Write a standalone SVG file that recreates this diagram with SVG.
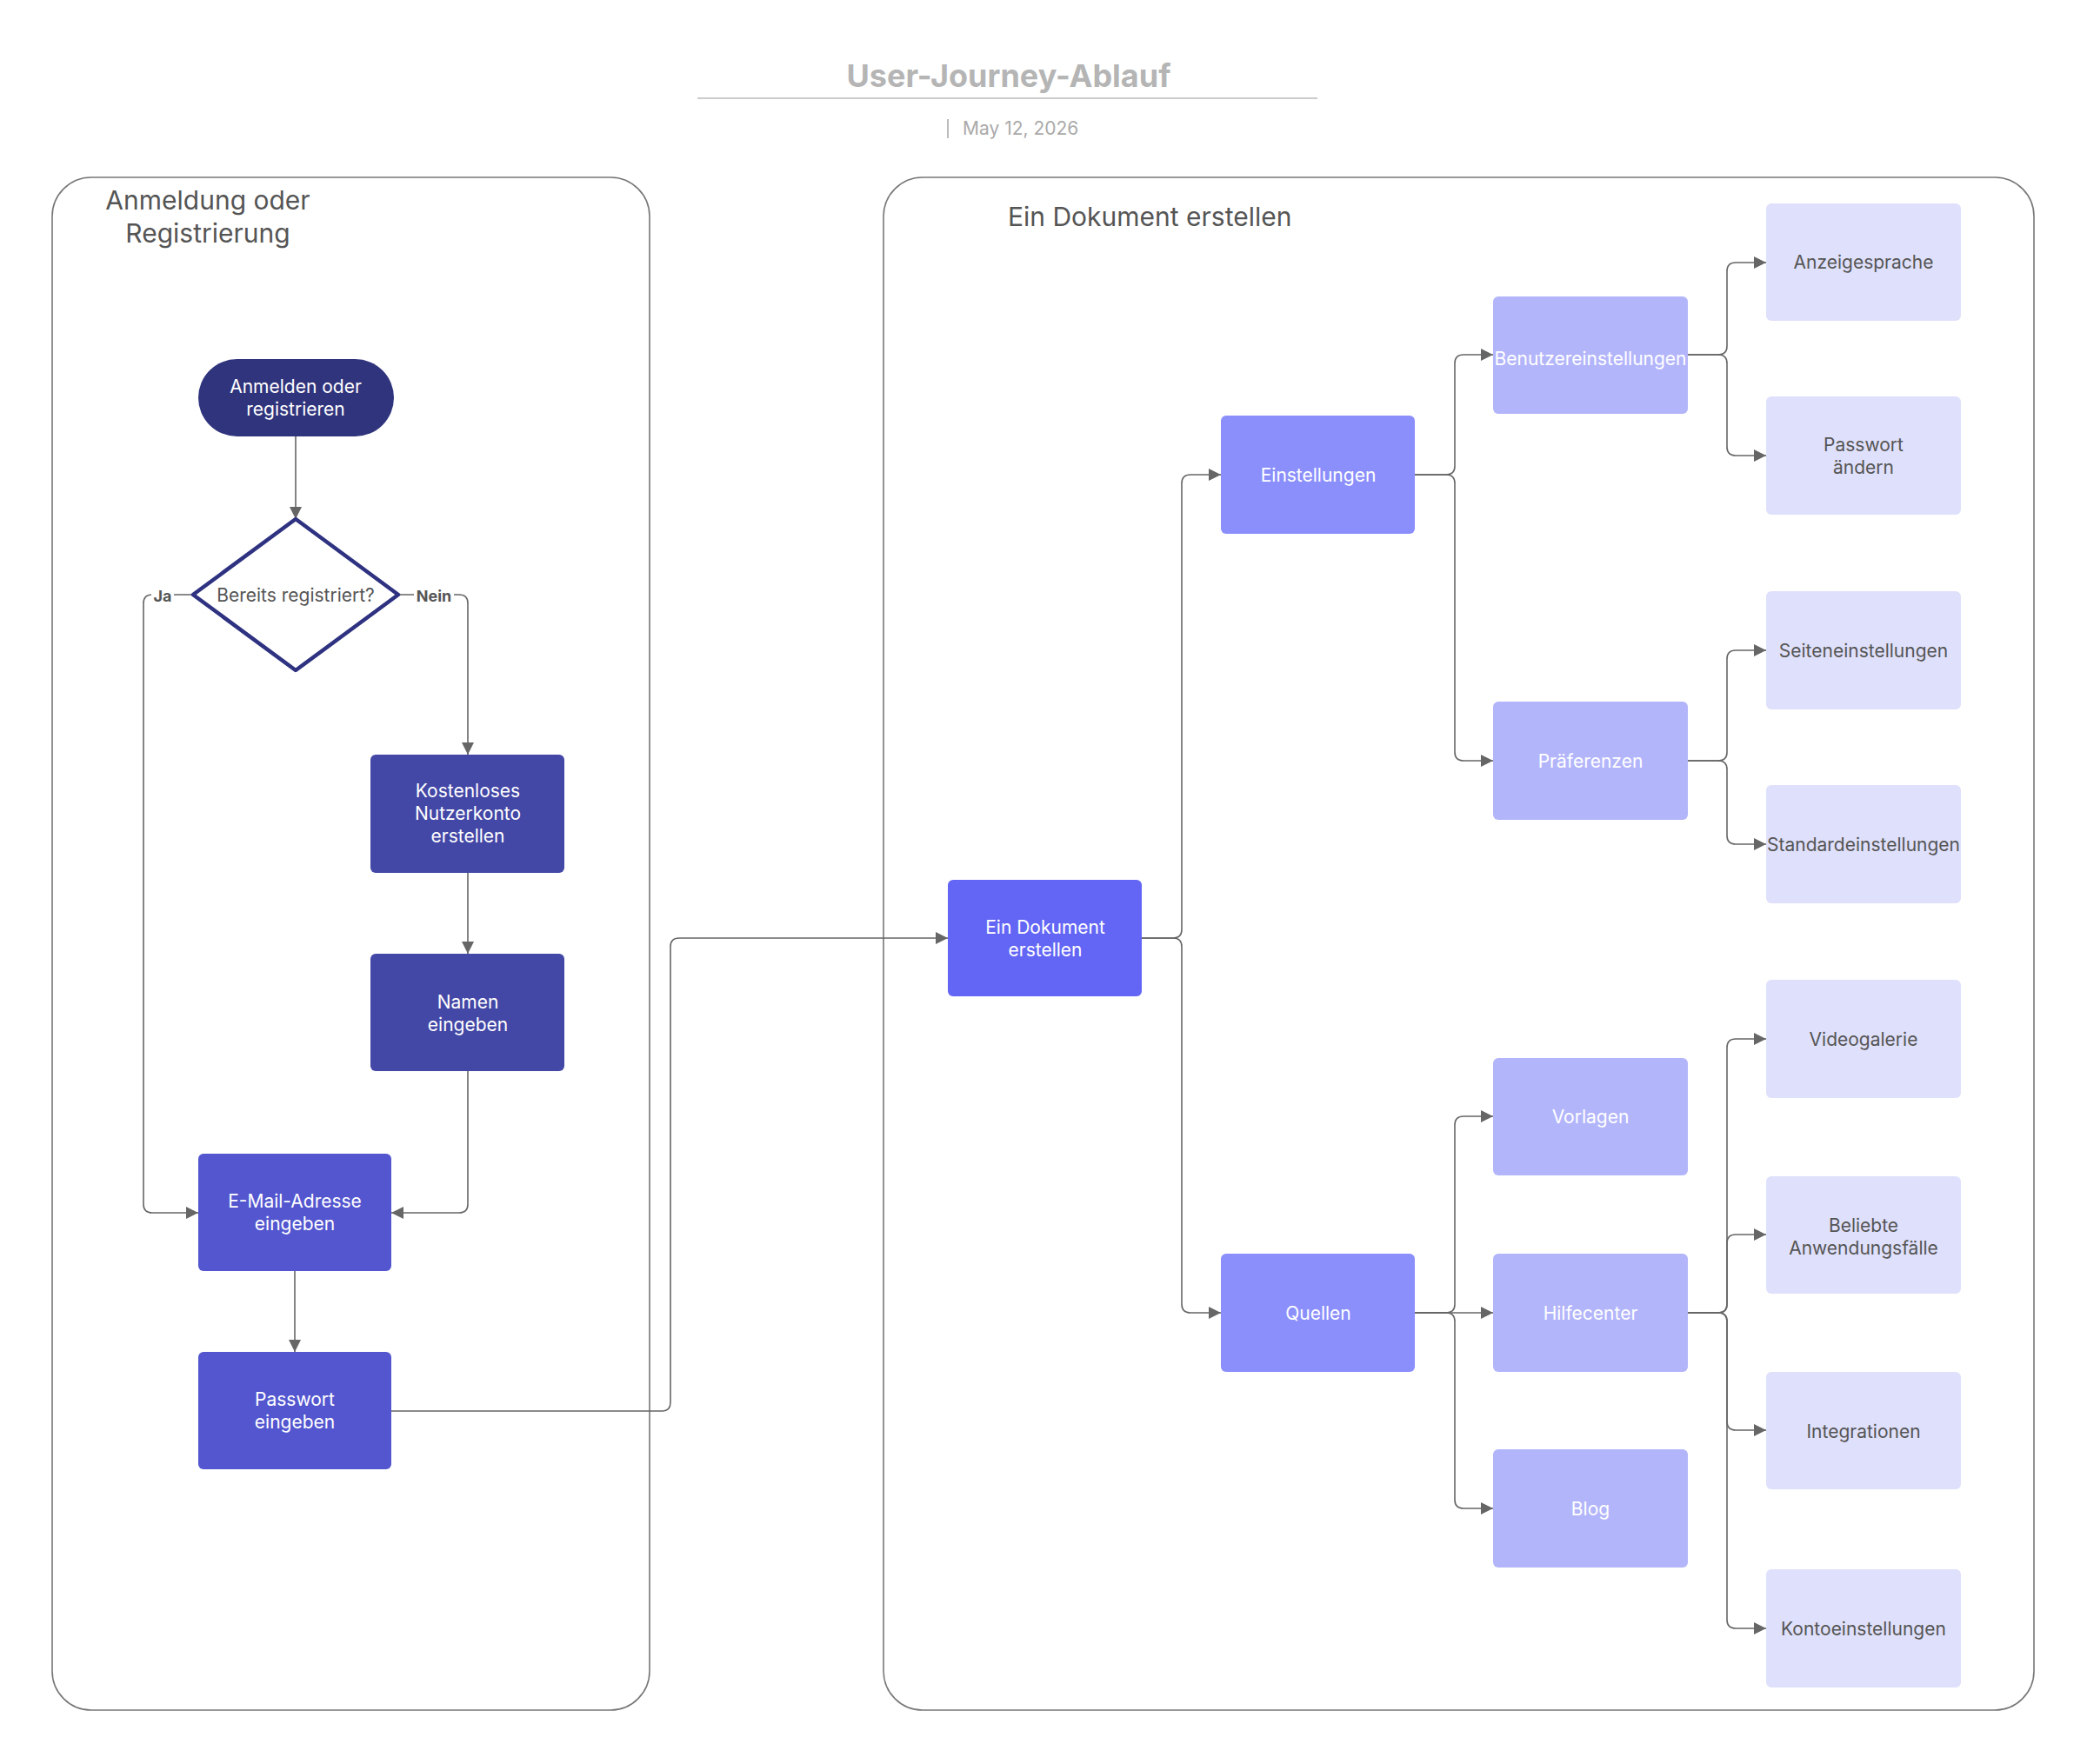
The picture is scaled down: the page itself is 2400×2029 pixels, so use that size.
<svg xmlns="http://www.w3.org/2000/svg" width="2400" height="2029" viewBox="0 0 2400 2029">
<style>
text{font-family:Inter,"Liberation Sans",sans-serif}
.c{fill:none;stroke:#666;stroke-width:1.6}
.n{font-size:21px;fill:#fff;text-anchor:middle}
.l{font-size:21px;fill:#555;text-anchor:middle}
.cont{fill:#fff;stroke:#777;stroke-width:1.6}
.ct{font-size:30px;fill:#555}
</style>
<defs><marker id="a" viewBox="0 0 10 10" refX="10" refY="5" markerWidth="14" markerHeight="14" markerUnits="userSpaceOnUse" orient="auto"><path d="M0 0L10 5L0 10z" fill="#666"/></marker></defs>
<rect width="2400" height="2029" fill="#fff"/>
<text x="1160" y="100" font-size="36" font-weight="bold" fill="#b5b5b5" text-anchor="middle">User-Journey-Ablauf</text>
<line x1="802" y1="113" x2="1515" y2="113" stroke="#ccc" stroke-width="2"/>
<line x1="1090" y1="137" x2="1090" y2="159" stroke="#bbb" stroke-width="2"/>
<text x="1107" y="155" font-size="21" fill="#aaa">May 12, 2026</text>
<g id="container-left"><rect class="cont" x="60" y="204" width="687" height="1763" rx="45"/>
<text class="ct" x="239" y="241" text-anchor="middle">Anmeldung oder</text><text class="ct" x="239" y="279" text-anchor="middle">Registrierung</text></g>
<g id="container-right"><rect class="cont" x="1016" y="204" width="1323" height="1763" rx="45"/>
<text class="ct" x="1159" y="260">Ein Dokument erstellen</text></g>
<g id="connectors">
<path class="c" d="M340 502V597" marker-end="url(#a)"/>
<path class="c" d="M222 684H175Q165 684 165 694V1385Q165 1395 175 1395H228" marker-end="url(#a)"/>
<path class="c" d="M458 684H528Q538 684 538 694V868" marker-end="url(#a)"/>
<path class="c" d="M538 1004V1097" marker-end="url(#a)"/>
<path class="c" d="M538 1232V1385Q538 1395 528 1395H450" marker-end="url(#a)"/>
<path class="c" d="M339 1462V1555" marker-end="url(#a)"/>
<path class="c" d="M450 1623H761Q771 1623 771 1613V1089Q771 1079 781 1079H1090" marker-end="url(#a)"/>
<path class="c" d="M1313 1079H1349Q1359 1079 1359 1069V556Q1359 546 1369 546H1404" marker-end="url(#a)"/>
<path class="c" d="M1313 1079H1349Q1359 1079 1359 1089V1500Q1359 1510 1369 1510H1404" marker-end="url(#a)"/>
<path class="c" d="M1627 546H1663Q1673 546 1673 536V418Q1673 408 1683 408H1717" marker-end="url(#a)"/>
<path class="c" d="M1627 546H1663Q1673 546 1673 556V865Q1673 875 1683 875H1717" marker-end="url(#a)"/>
<path class="c" d="M1941 408H1976Q1986 408 1986 398V312Q1986 302 1996 302H2031" marker-end="url(#a)"/>
<path class="c" d="M1941 408H1976Q1986 408 1986 418V514Q1986 524 1996 524H2031" marker-end="url(#a)"/>
<path class="c" d="M1941 875H1976Q1986 875 1986 865V758Q1986 748 1996 748H2031" marker-end="url(#a)"/>
<path class="c" d="M1941 875H1976Q1986 875 1986 885V961Q1986 971 1996 971H2031" marker-end="url(#a)"/>
<path class="c" d="M1627 1510H1663Q1673 1510 1673 1500V1294Q1673 1284 1683 1284H1717" marker-end="url(#a)"/>
<path class="c" d="M1627 1510H1717" marker-end="url(#a)"/>
<path class="c" d="M1627 1510H1663Q1673 1510 1673 1520V1725Q1673 1735 1683 1735H1717" marker-end="url(#a)"/>
<path class="c" d="M1941 1510H1976Q1986 1510 1986 1500V1205Q1986 1195 1996 1195H2031" marker-end="url(#a)"/>
<path class="c" d="M1941 1510H1976Q1986 1510 1986 1500V1430Q1986 1420 1996 1420H2031" marker-end="url(#a)"/>
<path class="c" d="M1941 1510H1976Q1986 1510 1986 1520V1635Q1986 1645 1996 1645H2031" marker-end="url(#a)"/>
<path class="c" d="M1941 1510H1976Q1986 1510 1986 1520V1863Q1986 1873 1996 1873H2031" marker-end="url(#a)"/>
<rect x="174" y="674" width="26" height="20" fill="#fff"/><text x="187" y="692" font-size="18" font-weight="bold" fill="#555" text-anchor="middle">Ja</text>
<rect x="476" y="674" width="46" height="20" fill="#fff"/><text x="499" y="692" font-size="18" font-weight="bold" fill="#555" text-anchor="middle">Nein</text>
</g>
<g id="start"><rect x="228" y="413" width="225" height="89" rx="44.5" fill="#30347c"/><text class="n" x="340" y="452">Anmelden oder</text><text class="n" x="340" y="478">registrieren</text></g>
<g id="decision"><path d="M340 597L458 684L340 771L222 684Z" fill="#fff" stroke="#2e3280" stroke-width="4.5" stroke-linejoin="round"/><text class="l" x="340" y="692">Bereits registriert?</text></g>
<g id="kostenlos"><rect x="426" y="868" width="223" height="136" rx="6" fill="#4347a6"/><text class="n" x="538" y="917">Kostenloses</text><text class="n" x="538" y="943">Nutzerkonto</text><text class="n" x="538" y="969">erstellen</text></g>
<g id="namen"><rect x="426" y="1097" width="223" height="135" rx="6" fill="#4347a6"/><text class="n" x="538" y="1160">Namen</text><text class="n" x="538" y="1186">eingeben</text></g>
<g id="email"><rect x="228" y="1327" width="222" height="135" rx="6" fill="#5356cf"/><text class="n" x="339" y="1389">E-Mail-Adresse</text><text class="n" x="339" y="1415">eingeben</text></g>
<g id="passwort"><rect x="228" y="1555" width="222" height="135" rx="6" fill="#5356cf"/><text class="n" x="339" y="1617">Passwort</text><text class="n" x="339" y="1643">eingeben</text></g>
<g id="dokument"><rect x="1090" y="1012" width="223" height="134" rx="6" fill="#6366f5"/><text class="n" x="1202" y="1074">Ein Dokument</text><text class="n" x="1202" y="1100">erstellen</text></g>
<g id="einstellungen"><rect x="1404" y="478" width="223" height="136" rx="6" fill="#8b8ffb"/><text class="n" x="1516" y="554">Einstellungen</text></g>
<g id="quellen"><rect x="1404" y="1442" width="223" height="136" rx="6" fill="#8b8ffb"/><text class="n" x="1516" y="1518">Quellen</text></g>
<g id="benutzer"><rect x="1717" y="341" width="224" height="135" rx="6" fill="#b3b5fb"/><text class="n" x="1829" y="420">Benutzereinstellungen</text></g>
<g id="praeferenzen"><rect x="1717" y="807" width="224" height="136" rx="6" fill="#b3b5fb"/><text class="n" x="1829" y="883">Präferenzen</text></g>
<g id="vorlagen"><rect x="1717" y="1217" width="224" height="135" rx="6" fill="#b3b5fb"/><text class="n" x="1829" y="1292">Vorlagen</text></g>
<g id="hilfecenter"><rect x="1717" y="1442" width="224" height="136" rx="6" fill="#b3b5fb"/><text class="n" x="1829" y="1518">Hilfecenter</text></g>
<g id="blog"><rect x="1717" y="1667" width="224" height="136" rx="6" fill="#b3b5fb"/><text class="n" x="1829" y="1743">Blog</text></g>
<g id="anzeigesprache"><rect x="2031" y="234" width="224" height="135" rx="6" fill="#dfe0fb"/><text class="l" x="2143" y="309">Anzeigesprache</text></g>
<g id="passwort-aendern"><rect x="2031" y="456" width="224" height="136" rx="6" fill="#dfe0fb"/><text class="l" x="2143" y="519">Passwort</text><text class="l" x="2143" y="545">ändern</text></g>
<g id="seiteneinstellungen"><rect x="2031" y="680" width="224" height="136" rx="6" fill="#dfe0fb"/><text class="l" x="2143" y="756">Seiteneinstellungen</text></g>
<g id="standardeinstellungen"><rect x="2031" y="903" width="224" height="136" rx="6" fill="#dfe0fb"/><text class="l" x="2143" y="979">Standardeinstellungen</text></g>
<g id="videogalerie"><rect x="2031" y="1127" width="224" height="136" rx="6" fill="#dfe0fb"/><text class="l" x="2143" y="1203">Videogalerie</text></g>
<g id="beliebte"><rect x="2031" y="1353" width="224" height="135" rx="6" fill="#dfe0fb"/><text class="l" x="2143" y="1417">Beliebte</text><text class="l" x="2143" y="1443">Anwendungsfälle</text></g>
<g id="integrationen"><rect x="2031" y="1578" width="224" height="135" rx="6" fill="#dfe0fb"/><text class="l" x="2143" y="1654">Integrationen</text></g>
<g id="kontoeinstellungen"><rect x="2031" y="1805" width="224" height="136" rx="6" fill="#dfe0fb"/><text class="l" x="2143" y="1881">Kontoeinstellungen</text></g>
</svg>
